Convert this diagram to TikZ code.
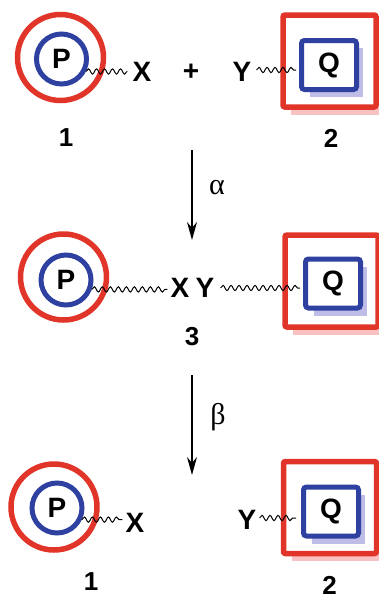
\documentclass[tikz,border=0pt]{standalone}
\usepackage{fontspec}
\setmainfont{Liberation Sans}
\newfontfamily\greekfont{Liberation Serif}
\usetikzlibrary{arrows.meta,decorations.pathmorphing,calc}

\definecolor{ringred}{HTML}{E2352A}
\definecolor{coreblue}{HTML}{2F41A0}
\definecolor{redshade}{HTML}{F8C2C2}
\definecolor{blueshade}{HTML}{BDBDE8}

% P bead inside its ring
\newcommand{\pbead}[3]{%
  \node[outerring] (r#1) at (#2) {};
  \node[innerring] (p#1) at (#3) {P};}
% Q block inside its frame, with soft offset shadows
\newcommand{\qblock}[3]{%
  \path (#2) node[frame, draw=none, fill=none] (f#1) {};
  \fill[redshade] ($(f#1.north west)+(11,8)$) rectangle ($(f#1.south east)+(9,5)$);
  \node[frame] at (#2) {};
  \path (#3) node[core, draw=none, fill=none] (q#1) {};
  \fill[blueshade] ($(q#1.north west)+(11,10)$) rectangle ($(q#1.south east)+(4,5)$);
  \node[core] at (#3) {Q};}

\begin{document}
\begin{tikzpicture}[x=1pt,y=-1pt,
  lbl/.style={font=\fontsize{28}{28}\selectfont\bfseries, inner sep=0pt},
  numlbl/.style={font=\fontsize{26}{26}\selectfont\bfseries, inner sep=0pt},
  greeklbl/.style={font=\fontsize{30}{30}\selectfont\greekfont, inner sep=0pt},
  outerring/.style={circle, draw=ringred, line width=5.5pt, minimum size=86pt, inner sep=0pt},
  innerring/.style={circle, draw=coreblue, fill=white, line width=5pt, minimum size=50pt,
    inner sep=0pt, font=\fontsize{28}{28}\selectfont\bfseries},
  frame/.style={rectangle, draw=ringred, fill=white, line width=5.5pt, rounded corners=2pt,
    minimum width=93pt, minimum height=92pt},
  core/.style={rectangle, draw=coreblue, fill=white, line width=5pt, rounded corners=3pt,
    minimum width=55pt, minimum height=49pt, inner sep=0pt, font=\fontsize{28}{28}\selectfont\bfseries},
  tether/.style={decorate, decoration={snake, segment length=8pt, amplitude=2.6pt}, line width=1pt},
  reaction/.style={-{Stealth[length=18pt,width=10pt]}, line width=1.5pt}
]
\useasboundingbox (0,0) rectangle (379,600);

% ---- top row: 1 + 2
\pbead{1}{60.5,57.5}{61.5,59}
\qblock{1}{329.5,61}{329,65}
\node[lbl] (x1) at (142,72) {X};
\node[lbl] (plus) at (191,72) {+};
\node[lbl] (y1) at (242,72) {Y};
\node[numlbl] (n1) at (66,138) {1};
\node[numlbl] (n2) at (331,138) {2};
\draw[tether] (p1.-27) -- ($(x1.west |- p1.-27)+(-5,0)$);
\draw[tether] ($(y1.east)+(5,-2)$) -- ($(q1.west)+(-3,5)$);

% ---- first step
\coordinate (a1s) at (192,150);
\coordinate (a1e) at (192,240);
\draw[reaction] (a1s) -- (a1e);
\node[greeklbl] (alpha) at (217,188) {α};

% ---- middle row: adduct 3
\pbead{2}{63.5,277}{66,280}
\qblock{2}{331.5,281}{333,283.5}
\node[lbl] (x2) at (180,288) {X};
\node[lbl] (y2) at (205,288) {Y};
\node[numlbl] (n3) at (192,337) {3};
\draw[tether] (p2.-20) -- ($(x2.west |- p2.-20)+(-3,0)$);
\draw[tether] ($(y2.east)+(6,0)$) -- ($(q2.west)+(-3,4.5)$);

% ---- second step
\coordinate (a2s) at (192,375);
\coordinate (a2e) at (192,475);
\draw[reaction] (a2s) -- (a2e);
\node[greeklbl] (beta) at (218,417) {β};

% ---- bottom row: 1 and 2 again
\pbead{3}{54,507}{57,508}
\qblock{3}{330,507.5}{331,511.5}
\node[lbl] (x3) at (135,523) {X};
\node[lbl] (y3) at (247,520) {Y};
\node[numlbl] (n4) at (91,581.5) {1};
\node[numlbl] (n5) at (329.5,585) {2};
\draw[tether] (p3.-25) -- ($(x3.west |- p3.-25)+(-3,0)$);
\draw[tether] ($(y3.east)+(3,-2)$) -- ($(q3.west)+(-5,6.5)$);
\end{tikzpicture}
\end{document}
